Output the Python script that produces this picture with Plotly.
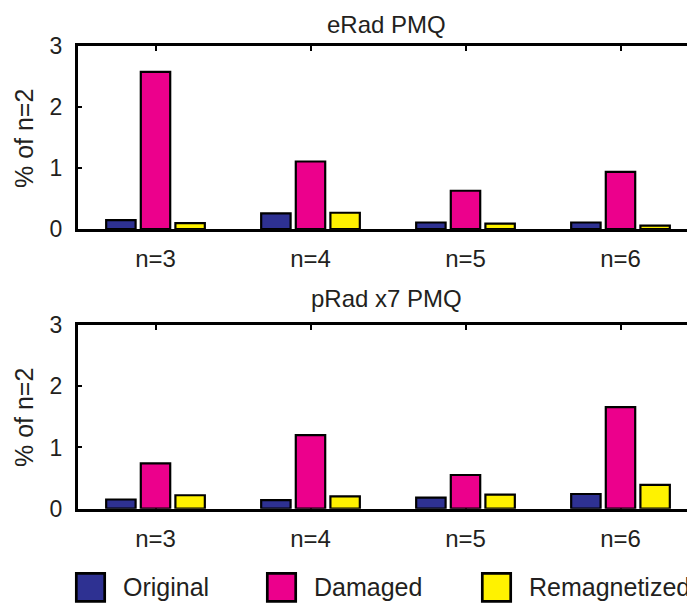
import plotly.graph_objects as go

categories = ["n=3", "n=4", "n=5", "n=6"]
series_names = ["Original", "Damaged", "Remagnetized"]
series_colors = ["#2e3192", "#ec008c", "#fff200"]

erad_original = [0.15, 0.26, 0.11, 0.11]
erad_damaged = [2.58, 1.11, 0.63, 0.94]
erad_remag = [0.10, 0.27, 0.09, 0.06]

prad_original = [0.15, 0.14, 0.18, 0.24]
prad_damaged = [0.74, 1.20, 0.55, 1.66]
prad_remag = [0.22, 0.20, 0.23, 0.39]

titles = ["eRad PMQ", "pRad x7 PMQ"]
y_label = "% of n=2"
y_ticks = [0, 1, 2, 3]

# page body has an 8px margin; shrink the figure so it fits the 695x605 window
OFF = 8
W, H = 695 - OFF, 605 - OFF
ML = 78 - OFF
PW = W - ML
TXT = "#231f20"
FONT = "Liberation Sans, Arial, Helvetica, sans-serif"

xpos = [1, 2, 3, 4]

def px_x(px):
    return (px - OFF - ML) / PW

def px_y(py):
    return 1 - (py - OFF) / H

fig = go.Figure()
panels = [
    (erad_original, erad_damaged, erad_remag, "x", "y"),
    (prad_original, prad_damaged, prad_remag, "x2", "y2"),
]
for o, d, r, xa, ya in panels:
    for name, col, vals in zip(series_names, series_colors, (o, d, r)):
        fig.add_trace(go.Bar(
            x=xpos, y=vals, name=name, xaxis=xa, yaxis=ya,
            marker=dict(color=col, line=dict(color="black", width=2.2)),
            showlegend=False,
        ))

xr = [0.5, 0.5 + PW / 155.0]
common_x = dict(
    range=xr, tickvals=xpos, ticktext=categories, showline=True, linecolor="black",
    linewidth=3, mirror="ticks", ticks="inside", ticklen=5, tickwidth=2,
    tickcolor="black", showgrid=False, zeroline=False, layer="below traces",
    tickfont=dict(size=24, color=TXT, family=FONT), ticklabelstandoff=6,
    automargin=False,
)
common_y = dict(
    range=[0, 3], tickvals=y_ticks, showline=True, linecolor="black", linewidth=3,
    mirror=False, ticks="inside", ticklen=4, tickwidth=2, tickcolor="black",
    showgrid=False, zeroline=False, layer="below traces",
    tickfont=dict(size=23, color=TXT, family=FONT), ticklabelstandoff=8,
    automargin=False,
)
right_y = dict(
    range=[0, 3], tickvals=y_ticks, showline=False, ticks="inside", ticklen=5,
    tickwidth=2, tickcolor="black", showticklabels=False, showgrid=False,
    zeroline=False, side="right", automargin=False,
)

top_dom = [px_y(229.2), px_y(46.2)]
bot_dom = [px_y(508.7), px_y(325)]

fig.update_layout(
    width=W, height=H,
    margin=dict(l=ML, r=0, t=0, b=0, pad=0),
    paper_bgcolor="white", plot_bgcolor="white",
    barmode="group", bargap=0.33, bargroupgap=0.15,
    showlegend=False,
    font=dict(family=FONT, color=TXT),
    xaxis=dict(common_x, domain=[0, 1], anchor="y"),
    yaxis=dict(common_y, domain=top_dom, anchor="x"),
    xaxis2=dict(common_x, domain=[0, 1], anchor="y2"),
    yaxis2=dict(common_y, domain=bot_dom, anchor="x2"),
    yaxis3=dict(right_y, overlaying="y", anchor="x"),
    yaxis4=dict(right_y, overlaying="y2", anchor="x2"),
)
fig.add_trace(go.Scatter(x=[None], y=[None], xaxis="x", yaxis="y3", showlegend=False, hoverinfo="skip"))
fig.add_trace(go.Scatter(x=[None], y=[None], xaxis="x2", yaxis="y4", showlegend=False, hoverinfo="skip"))

annotations = []
annotations.append(dict(text=titles[0], xref="paper", yref="paper", x=px_x(386.5), y=px_y(OFF + 0.5),
                        xanchor="center", yanchor="top", showarrow=False,
                        font=dict(size=24, color=TXT, family=FONT)))
annotations.append(dict(text=titles[1], xref="paper", yref="paper", x=px_x(386.5), y=px_y(298),
                        xanchor="center", yanchor="middle", showarrow=False,
                        font=dict(size=24, color=TXT, family=FONT)))
for cy in [138, 417]:
    annotations.append(dict(text=y_label, xref="paper", yref="paper", x=px_x(24), y=px_y(cy),
                            xanchor="center", yanchor="middle", showarrow=False, textangle=-90,
                            font=dict(size=25, color=TXT, family=FONT)))

leg_x = [75, 266, 481]
shapes = []
for name, col, lx in zip(series_names, series_colors, leg_x):
    shapes.append(dict(type="rect", xref="paper", yref="paper",
                       x0=px_x(lx + 1.3), x1=px_x(lx + 29.7), y0=px_y(601.3), y1=px_y(573.3),
                       fillcolor=col, line=dict(color="black", width=2.7)))
    annotations.append(dict(text=name, xref="paper", yref="paper", x=px_x(lx + 46), y=px_y(587),
                            xanchor="left", yanchor="middle", showarrow=False,
                            font=dict(size=25, color=TXT, family=FONT)))

fig.update_layout(annotations=annotations, shapes=shapes)
fig.write_html("out.html")
